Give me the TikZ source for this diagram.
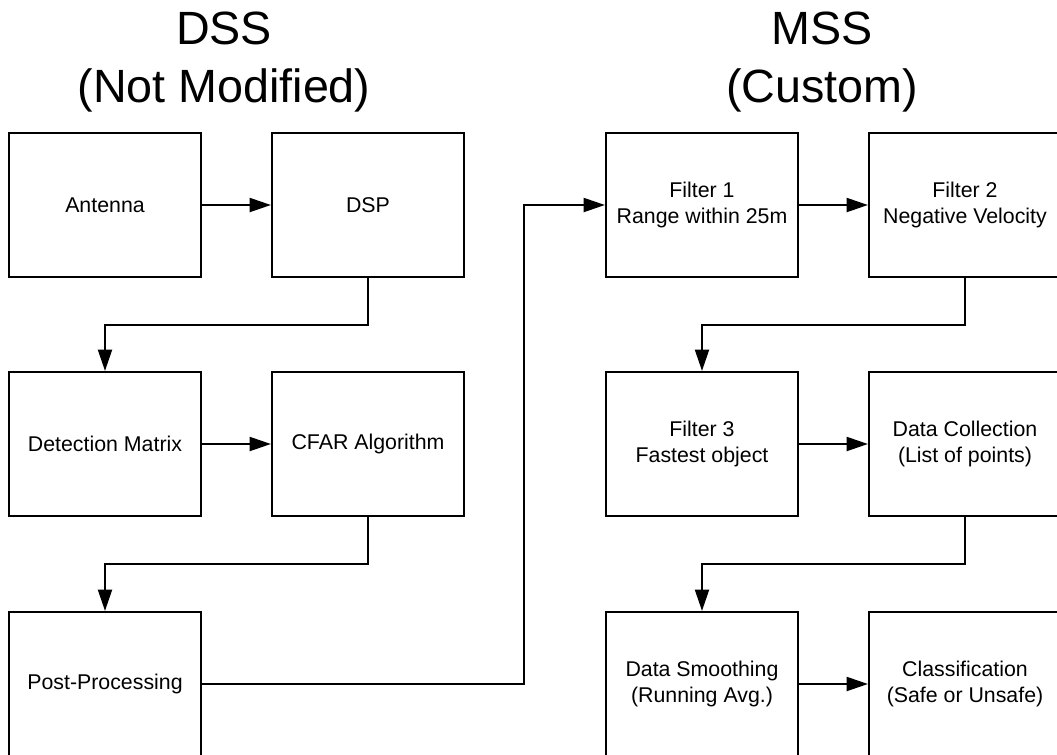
\documentclass[tikz,border=0pt]{standalone}
\usepackage{fontspec}
\setmainfont{Liberation Sans}
\usetikzlibrary{arrows.meta}
\begin{document}
\begin{tikzpicture}[x=0.75pt,y=-0.75pt,
  block/.style={draw,line width=1.6pt,minimum width=144pt,minimum height=108pt,
    inner sep=0pt,align=center,font=\fontsize{16}{19.5}\selectfont},
  flow/.style={line width=1.6pt,-{Triangle[length=16pt,width=10.5pt]}},
  heading/.style={font=\fontsize{35}{44}\selectfont,anchor=base}]
\useasboundingbox (0,0) rectangle (1057,754);

% column headings
\node[heading] (dssA) at (224,44) {DSS};
\node[heading] (dssB) at (224,102) {(Not Modified)};
\node[heading] (mssA) at (822,44) {MSS};
\node[heading] (mssB) at (822,102) {(Custom)};

% DSS chain
\node[block] (ant)  at (105,205) {Antenna};
\node[block] (dsp)  at (368,205) {DSP};
\node[block] (det)  at (105,444) {Detection Matrix};
\node[block] (cfar) at (368,444) {CFAR Algorithm};
\node[block] (post) at (105,684) {Post-Processing};

% MSS chain
\node[block] (f1)     at (702,205) {Filter 1\\Range within 25m};
\node[block] (f2)     at (965,205) {Filter 2\\Negative Velocity};
\node[block] (f3)     at (702,444) {Filter 3\\Fastest object};
\node[block] (coll)   at (965,444) {Data Collection\\(List of points)};
\node[block] (smooth) at (702,684) {Data Smoothing\\(Running Avg.)};
\node[block] (cls)    at (965,684) {Classification\\(Safe or Unsafe)};

% connectors
\draw[flow] (ant) -- (dsp);
\draw[flow] (dsp.south) -- ++(0,47) -| (det.north);
\draw[flow] (det) -- (cfar);
\draw[flow] (cfar.south) -- ++(0,47) -| (post.north);
\draw[flow] (post.east) -- ++(322,0) |- (f1.west);
\draw[flow] (f1) -- (f2);
\draw[flow] (f2.south) -- ++(0,47) -| (f3.north);
\draw[flow] (f3) -- (coll);
\draw[flow] (coll.south) -- ++(0,47) -| (smooth.north);
\draw[flow] (smooth) -- (cls);
\end{tikzpicture}
\end{document}
